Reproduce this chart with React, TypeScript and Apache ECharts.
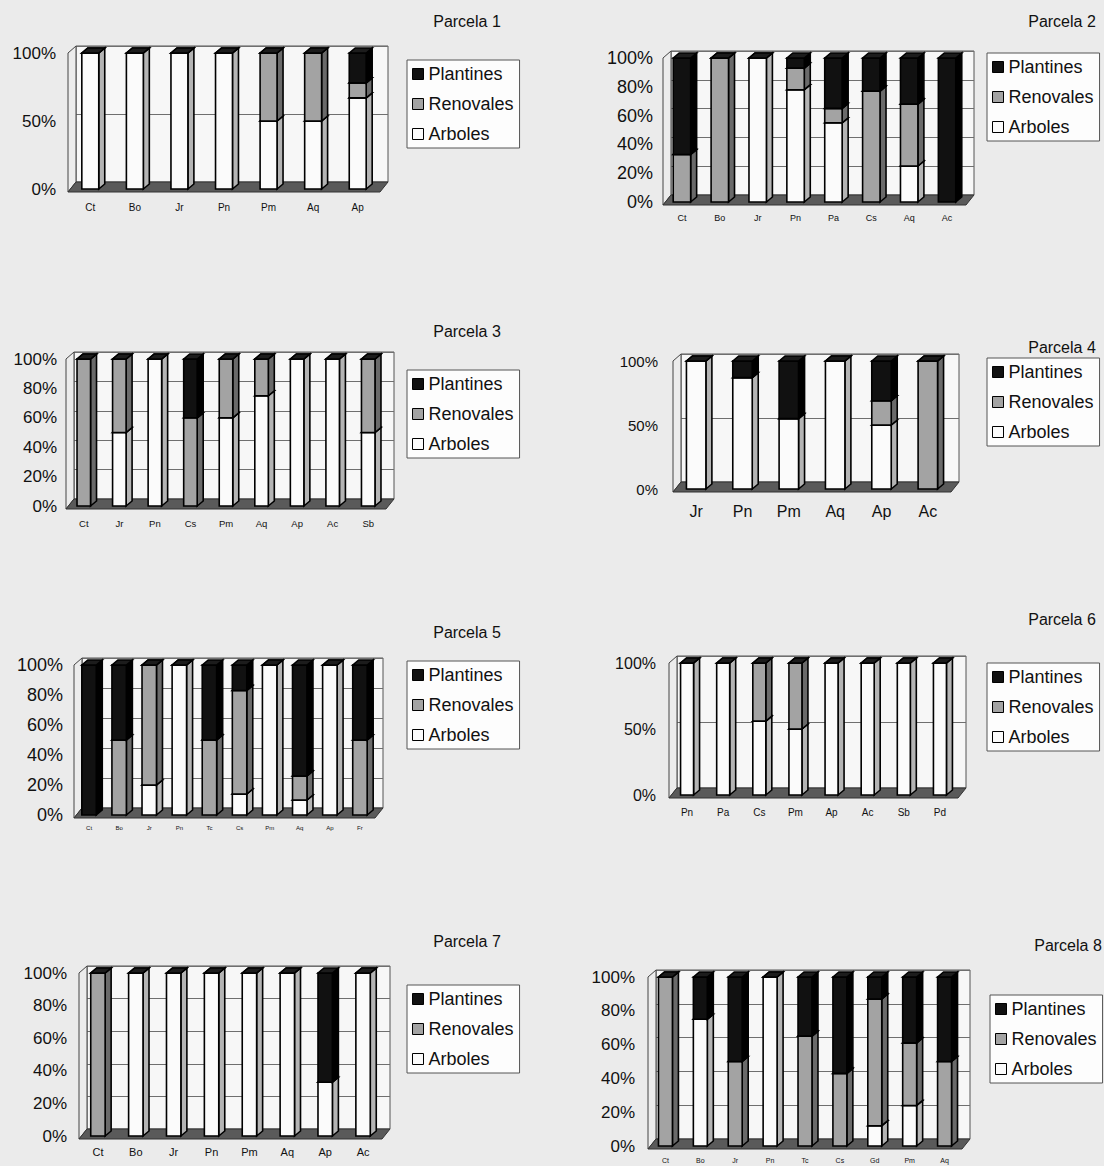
import React, { useEffect, useRef } from "react";
import * as echarts from "echarts";

// ---------- DATA ----------
const seriesNames = ["Arboles", "Renovales", "Plantines"];
const legendOrder = ["Plantines", "Renovales", "Arboles"];

const p1Cats = ["Ct", "Bo", "Jr", "Pn", "Pm", "Aq", "Ap"];
const p1Arboles = [100, 100, 100, 100, 50, 50, 67];
const p1Renovales = [0, 0, 0, 0, 50, 50, 11];
const p1Plantines = [0, 0, 0, 0, 0, 0, 22];

const p2Cats = ["Ct", "Bo", "Jr", "Pn", "Pa", "Cs", "Aq", "Ac"];
const p2Arboles = [0, 0, 100, 78, 55, 0, 25, 0];
const p2Renovales = [33, 100, 0, 15, 10, 77, 43, 0];
const p2Plantines = [67, 0, 0, 7, 35, 23, 32, 100];

const p3Cats = ["Ct", "Jr", "Pn", "Cs", "Pm", "Aq", "Ap", "Ac", "Sb"];
const p3Arboles = [0, 50, 100, 0, 60, 75, 100, 100, 50];
const p3Renovales = [100, 50, 0, 60, 40, 25, 0, 0, 50];
const p3Plantines = [0, 0, 0, 40, 0, 0, 0, 0, 0];

const p4Cats = ["Jr", "Pn", "Pm", "Aq", "Ap", "Ac"];
const p4Arboles = [100, 87, 55, 100, 50, 0];
const p4Renovales = [0, 0, 0, 0, 19, 100];
const p4Plantines = [0, 13, 45, 0, 31, 0];

const p5Cats = ["Ct", "Bo", "Jr", "Pn", "Tc", "Cs", "Pm", "Aq", "Ap", "Fr"];
const p5Arboles = [0, 0, 20, 100, 0, 14, 100, 10, 100, 0];
const p5Renovales = [0, 50, 80, 0, 50, 69, 0, 16, 0, 50];
const p5Plantines = [100, 50, 0, 0, 50, 17, 0, 74, 0, 50];

const p6Cats = ["Pn", "Pa", "Cs", "Pm", "Ap", "Ac", "Sb", "Pd"];
const p6Arboles = [100, 100, 56, 50, 100, 100, 100, 100];
const p6Renovales = [0, 0, 44, 50, 0, 0, 0, 0];
const p6Plantines = [0, 0, 0, 0, 0, 0, 0, 0];

const p7Cats = ["Ct", "Bo", "Jr", "Pn", "Pm", "Aq", "Ap", "Ac"];
const p7Arboles = [0, 100, 100, 100, 100, 100, 33, 100];
const p7Renovales = [100, 0, 0, 0, 0, 0, 0, 0];
const p7Plantines = [0, 0, 0, 0, 0, 0, 67, 0];

const p8Cats = ["Ct", "Bo", "Jr", "Pn", "Tc", "Cs", "Gd", "Pm", "Aq"];
const p8Arboles = [0, 75, 0, 100, 0, 0, 12, 24, 0];
const p8Renovales = [100, 0, 50, 0, 65, 43, 75, 37, 50];
const p8Plantines = [0, 25, 50, 0, 35, 57, 13, 39, 50];

const yTicks1 = 50; // tick step for panels with 0/50/100
const yTicks2 = 20; // tick step for panels with 0..100 by 20

const panels = [
  { title: "Parcela 1", cats: p1Cats, vals: [p1Arboles, p1Renovales, p1Plantines], step: yTicks1 },
  { title: "Parcela 2", cats: p2Cats, vals: [p2Arboles, p2Renovales, p2Plantines], step: yTicks2 },
  { title: "Parcela 3", cats: p3Cats, vals: [p3Arboles, p3Renovales, p3Plantines], step: yTicks2 },
  { title: "Parcela 4", cats: p4Cats, vals: [p4Arboles, p4Renovales, p4Plantines], step: yTicks1 },
  { title: "Parcela 5", cats: p5Cats, vals: [p5Arboles, p5Renovales, p5Plantines], step: yTicks2 },
  { title: "Parcela 6", cats: p6Cats, vals: [p6Arboles, p6Renovales, p6Plantines], step: yTicks1 },
  { title: "Parcela 7", cats: p7Cats, vals: [p7Arboles, p7Renovales, p7Plantines], step: yTicks2 },
  { title: "Parcela 8", cats: p8Cats, vals: [p8Arboles, p8Renovales, p8Plantines], step: yTicks2 },
];

// ---------- LAYOUT (positions / styles only) ----------
const layout = [
  { L: 68, R: 380, T: 53, B: 189, frac: 0.38, yFont: 17, yMargin: 12, xFont: 10, xMargin: 13, tx: 467, ty: 21, lx: 407, ly: 60 },
  { L: 663, R: 966, T: 58, B: 202, frac: 0.46, yFont: 18, yMargin: 10, xFont: 9, xMargin: 11, tx: 1062, ty: 21, lx: 987, ly: 53 },
  { L: 66, R: 386, T: 359, B: 506, frac: 0.38, yFont: 17, yMargin: 9, xFont: 9.5, xMargin: 12, tx: 467, ty: 331, lx: 407, ly: 370 },
  { L: 673, R: 951, T: 361, B: 489, frac: 0.42, yFont: 15, yMargin: 15, xFont: 16, xMargin: 14, tx: 1062, ty: 347, lx: 987, ly: 358 },
  { L: 74, R: 375, T: 665, B: 815, frac: 0.48, yFont: 18, yMargin: 11, xFont: 6, xMargin: 10, tx: 467, ty: 632, lx: 407, ly: 661 },
  { L: 669, R: 958, T: 663, B: 795, frac: 0.36, yFont: 16, yMargin: 13, xFont: 10, xMargin: 12, tx: 1062, ty: 619, lx: 987, ly: 663 },
  { L: 79, R: 382, T: 973, B: 1136, frac: 0.38, yFont: 17, yMargin: 12, xFont: 11, xMargin: 10, tx: 467, ty: 941, lx: 407, ly: 985 },
  { L: 648, R: 962, T: 977, B: 1146, frac: 0.4, yFont: 17, yMargin: 13, xFont: 7, xMargin: 11, tx: 1068, ty: 945, lx: 990, ly: 995 },
];

const FONT = "'Liberation Sans', Arial, sans-serif";
const FACE = ["#fbfbfb", "#a3a3a3", "#111111"];
const SIDE = ["#b4b4b4", "#6a6a6a", "#000000"];
const TOP = ["#e0e0e0", "#8c8c8c", "#1c1c1c"];
const DX = 6, DY = 5; // bar depth
const WDX = 8, WDY = 7; // wall depth

function makeRender(kind: number, frac: number) {
  return (params: any, api: any) => {
    const cs = params.coordSys;
    const idx = api.value(0);
    const lo = api.value(1);
    const hi = api.value(2);
    const children: any[] = [];
    if (kind === 0 && params.dataIndex === 0) {
      const L = cs.x, T = cs.y, R = cs.x + cs.width, B = cs.y + cs.height;
      children.push({
        type: "polygon",
        shape: { points: [[L, B + 3], [L + WDX, B - WDY], [L + WDX, T - WDY], [L, T]] },
        style: { fill: "#ececec", stroke: "#444", lineWidth: 1 },
      });
      children.push({
        type: "polygon",
        shape: { points: [[L, B + 3], [R, B + 3], [R + WDX, B - WDY], [L + WDX, B - WDY]] },
        style: { fill: "#5a5a5a", stroke: "#333", lineWidth: 1 },
      });
    }
    const bw = api.size([1, 0])[0] * frac;
    const xc = api.coord([idx, 0])[0];
    const yLo = api.coord([idx, lo])[1];
    const yHi = api.coord([idx, hi])[1];
    const x0 = xc - bw / 2, x1 = xc + bw / 2;
    const stroke = { stroke: "#000", lineWidth: 1.6 };
    if (hi > lo) {
      children.push({
        type: "polygon",
        shape: { points: [[x1, yLo], [x1 + DX, yLo - DY], [x1 + DX, yHi - DY], [x1, yHi]] },
        style: { fill: SIDE[kind], ...stroke },
      });
      children.push({
        type: "rect",
        shape: { x: x0, y: yHi, width: bw, height: yLo - yHi },
        style: { fill: FACE[kind], ...stroke },
      });
    }
    if (hi > lo || kind === 2) {
      children.push({
        type: "polygon",
        shape: { points: [[x0, yHi], [x0 + DX, yHi - DY], [x1 + DX, yHi - DY], [x1, yHi]] },
        style: { fill: TOP[kind], ...stroke },
      });
    }
    return { type: "group", children };
  };
}

function buildOption() {
  const grid: any[] = [];
  const xAxis: any[] = [];
  const yAxis: any[] = [];
  const series: any[] = [];
  const legend: any[] = [];
  const graphic: any[] = [];

  panels.forEach((p, i) => {
    const g = layout[i];
    const W = g.R - g.L, H = g.B - g.T;
    grid.push({ left: g.L, top: g.T, width: W, height: H, show: false });
    grid.push({
      left: g.L + WDX, top: g.T - WDY, width: W, height: H, show: true,
      backgroundColor: "#f7f7f7", borderColor: "#555", borderWidth: 1,
    });
    xAxis.push({
      type: "category", gridIndex: 2 * i, data: p.cats,
      axisLine: { show: false }, axisTick: { show: false }, splitLine: { show: false },
      axisLabel: { interval: 0, fontSize: g.xFont, margin: g.xMargin, color: "#111", fontFamily: FONT },
    });
    xAxis.push({ type: "category", gridIndex: 2 * i + 1, data: p.cats, show: false });
    yAxis.push({
      type: "value", gridIndex: 2 * i, min: 0, max: 100, interval: p.step,
      axisLine: { show: false }, axisTick: { show: false }, splitLine: { show: false },
      axisLabel: { formatter: "{value}%", fontSize: g.yFont, margin: g.yMargin, color: "#111", fontFamily: FONT },
    });
    yAxis.push({
      type: "value", gridIndex: 2 * i + 1, min: 0, max: 100, interval: p.step,
      axisLine: { show: false }, axisTick: { show: false }, axisLabel: { show: false },
      splitLine: { show: true, lineStyle: { color: "#6f6f6f", width: 1 } },
    });
    let cum = p.cats.map(() => 0);
    seriesNames.forEach((name, k) => {
      const vals = p.vals[k];
      const data = p.cats.map((_, j) => {
        const lo = cum[j];
        const hi = lo + vals[j];
        return [j, lo, hi];
      });
      cum = cum.map((c, j) => c + vals[j]);
      series.push({
        type: "custom", name, xAxisIndex: 2 * i, yAxisIndex: 2 * i,
        renderItem: makeRender(k, g.frac), data, encode: { x: 0, y: 2 },
        itemStyle: { color: FACE[k], borderColor: "#000", borderWidth: 1 },
        silent: true,
      });
    });
    legend.push({
      data: legendOrder, orient: "vertical", left: g.lx, top: g.ly,
      icon: "rect", itemWidth: 11, itemHeight: 11, itemGap: 10,
      padding: [4, 6, 4, 5], selectedMode: false,
      backgroundColor: "#fdfdfd", borderColor: "#555", borderWidth: 1,
      itemStyle: { borderColor: "#000", borderWidth: 1 },
      textStyle: { fontSize: 18, lineHeight: 20, color: "#111", fontFamily: FONT },
    });
    graphic.push({
      type: "text", x: g.tx, y: g.ty,
      style: { text: p.title, fontSize: 16, fontFamily: FONT, fill: "#111", textAlign: "center", textVerticalAlign: "middle" },
    });
  });

  return {
    animation: false,
    backgroundColor: "#ebebeb",
    grid, xAxis, yAxis, series, legend, graphic,
  };
}

export default function App() {
  const ref = useRef<HTMLDivElement>(null);
  useEffect(() => {
    if (!ref.current) return;
    const chart = echarts.init(ref.current, undefined, { renderer: "svg" });
    chart.setOption(buildOption() as any);
    return () => chart.dispose();
  }, []);
  return (
    <div
      ref={ref}
      style={{ position: "absolute", left: 0, top: 0, width: 1104, height: 1166, background: "#ebebeb" }}
    />
  );
}
